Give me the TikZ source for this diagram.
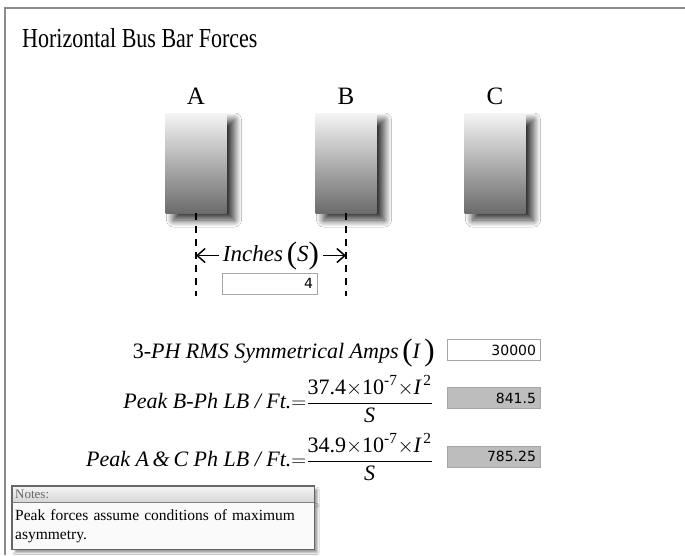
\documentclass[tikz,border=0pt]{standalone}
\usepackage{amsmath}
\usepackage{fontspec}
\setmainfont{Liberation Serif}
\newfontfamily\numfont{DejaVu Sans}
\usetikzlibrary{positioning,shadows.blur,arrows.meta}
\newcommand{\tallparen}[1]{\raisebox{-2pt}{\fontsize{31}{31}\selectfont#1}}

\begin{document}
\begin{tikzpicture}[x=1pt,y=-1pt,
    bar/.style={minimum width=61pt,minimum height=100pt,inner sep=0pt,
        top color=black!4,bottom color=black!58,
        blur shadow={shadow xshift=8pt,shadow yshift=-7pt,shadow blur radius=7pt,
            shadow blur steps=14,shadow opacity=80}},
    barlabel/.style={font=\fontsize{25}{28}\selectfont,inner sep=0pt},
    dimline/.style={dash pattern=on 7pt off 6pt,line width=1.3pt},
    dimarrow/.style={-{Straight Barb[length=8pt,width=14pt]},line width=1.5pt},
    eqtext/.style={font=\fontsize{22}{26}\selectfont,inner sep=0pt},
    valbox/.style={draw=black!35,line width=1pt,minimum width=93pt,minimum height=21pt,
        text width=85pt,align=right,inner sep=3pt,fill=white,
        font=\numfont\fontsize{14}{16}\selectfont},
    noteshead/.style={text width=296pt,inner xsep=3pt,inner ysep=1pt,minimum height=16pt,
        align=left,top color=black!4,bottom color=black!16,text=black!60,
        font=\fontsize{13}{15}\selectfont,
        blur shadow={shadow xshift=3pt,shadow yshift=-3pt,shadow blur radius=2pt}},
    notesbody/.style={text width=296pt,inner xsep=3pt,inner ysep=3pt,minimum height=47pt,
        align=left,fill=black!2,font=\fontsize{15.5}{19}\selectfont,
        blur shadow={shadow xshift=3pt,shadow yshift=-3pt,shadow blur radius=2pt}}]
\fill[white] (0,0) rectangle (685,555);
\useasboundingbox (0,0) rectangle (685,555);
\draw[black!45,line width=2pt] (5,555) -- (5,8) -- (685,8);
\node[anchor=base west,inner sep=0pt,font=\fontsize{22}{26}\selectfont] (title) at (22,47)
    {\scalebox{1}[1.25]{Horizontal Bus Bar Forces}};
% bars and phase letters
\foreach \name/\xpos in {A/196,B/346,C/495}
{
    \node[bar] (bar\name) at (\xpos,163) {};
    \node[barlabel,above=8pt of bar\name] (lab\name) {\name};
}
\foreach \name in {A,B}
{
    \draw[dimline] (bar\name.south) -- ++(0,83) coordinate (dimEnd\name);
}
\node[eqtext,anchor=base,inner xsep=4pt,font=\fontsize{23}{27}\selectfont] (inches) at (271,261)
    {\textit{Inches}\,\tallparen{(}\textit{S}\tallparen{)}};
\draw[dimarrow] (inches.west) -- (inches.west -| dimEndA);
\draw[dimarrow] (inches.east) -- (inches.east -| dimEndB);
\node[valbox,minimum width=95pt,text width=87pt] (gapBox) at (269.5,283.5) {4};
% formulas
\node[eqtext,anchor=base east] (ampsLabel) at (435,358)
    {3-\textit{PH RMS Symmetrical Amps}\,\tallparen{(}\textit{I}\,\tallparen{)}};
\node[valbox] (ampsBox) at (493.5,350) {30000};
\node[eqtext,anchor=east] (peakB) at (433,399)
    {\textit{Peak B-Ph LB / Ft.}${=}\dfrac{\text{37.4}{\times}\text{10}^{\text{-7}}{\times}\textit{I}^{\,\text{2}}}{\textit{S}}$};
\node[valbox,fill=black!26] (peakBBox) at (493.5,398) {841.5};
\node[eqtext,anchor=east] (peakAC) at (433,457)
    {\textit{Peak A\,\&\,C Ph LB / Ft.}${=}\dfrac{\text{34.9}{\times}\text{10}^{\text{-7}}{\times}\textit{I}^{\,\text{2}}}{\textit{S}}$};
\node[valbox,fill=black!26] (peakACBox) at (493.5,456.5) {785.25};
% notes
\node[noteshead,anchor=north west] (notesHead) at (12,486) {Notes:};
\node[notesbody,below=0pt of notesHead] (notesBody) {Peak forces assume conditions of maximum asymmetry.};
\draw[black!60,line width=1.2pt] (notesHead.north west) rectangle (notesBody.south east);
\draw[black!50] (notesHead.south west) -- (notesHead.south east);
\end{tikzpicture}
\end{document}
